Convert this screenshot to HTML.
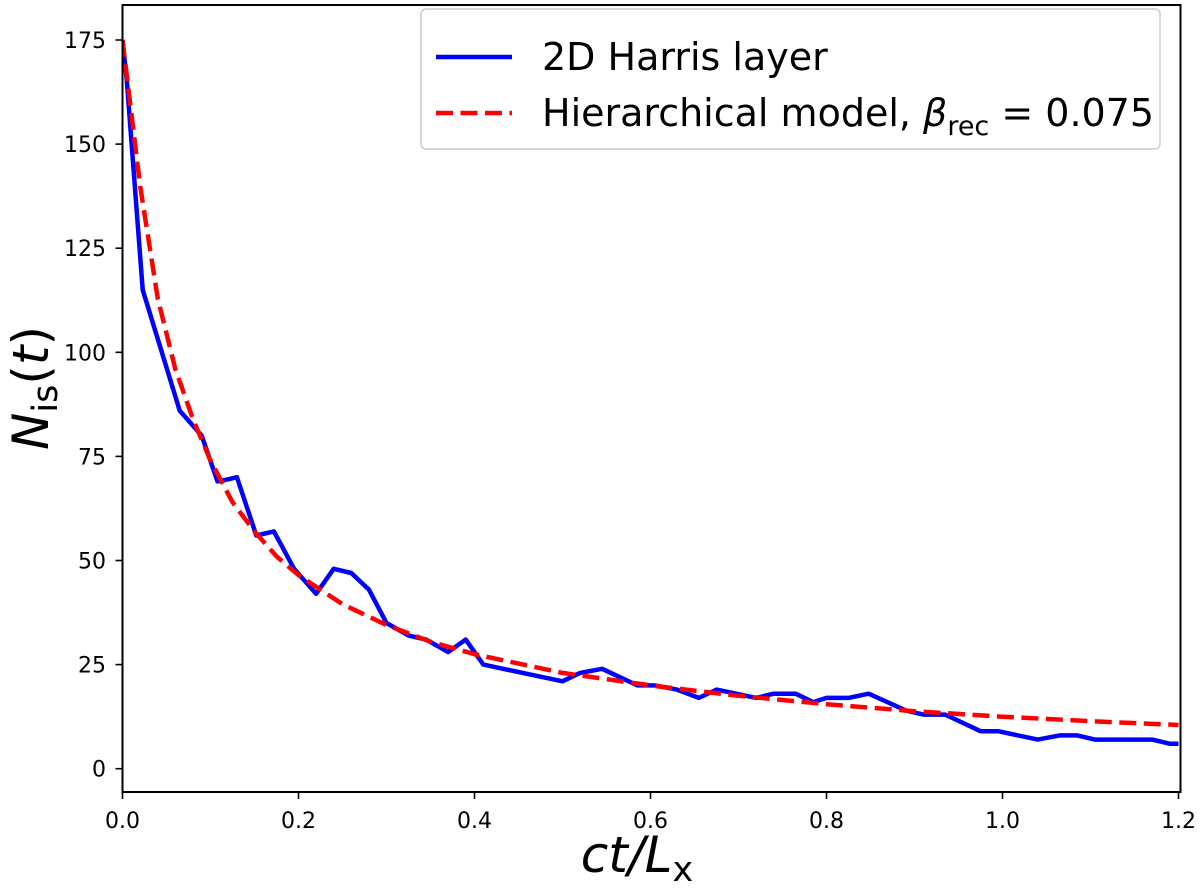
<!DOCTYPE html>
<html><head><meta charset="utf-8"><style>
body{margin:0;background:#fff}
text{font-family:"DejaVu Sans","Liberation Sans",sans-serif}
</style></head><body>
<svg id="chart" width="1200" height="886" xmlns="http://www.w3.org/2000/svg">
<defs><clipPath id="clip"><rect x="122.5" y="5" width="1058" height="787"/></clipPath></defs>
<g id="ticks"></g>
<g clip-path="url(#clip)">
<path id="blue" fill="none" stroke="#0000ff" stroke-width="4.5" stroke-linejoin="round"/>
<path id="red" fill="none" stroke="#ff0000" stroke-width="4.5" stroke-dasharray="17,7.5"/>
</g>
<rect x="122.5" y="5" width="1058" height="787" fill="none" stroke="#000" stroke-width="2"/>
<g>
<rect x="421" y="9" width="739" height="140" rx="5" fill="#fff" fill-opacity="0.8" stroke="#ccc" stroke-width="1.5"/>
<line x1="436" y1="57" x2="512" y2="57" stroke="#0000ff" stroke-width="4.5"/>
<text x="542" y="70" font-size="38">2D Harris layer</text>
<line x1="436" y1="113" x2="512" y2="113" stroke="#ff0000" stroke-width="4.5" stroke-dasharray="17,7.5"/>
<text x="542" y="126" font-size="38">Hierarchical model, <tspan font-style="italic">β</tspan><tspan font-size="27" dy="9">rec</tspan><tspan dy="-9"> = 0.075</tspan></text>
</g>
<text x="637" y="872" font-size="50" text-anchor="middle" font-style="italic">ct/L<tspan font-style="normal" font-size="35" dy="9">x</tspan></text>
<text transform="translate(48,388) rotate(-90)" font-size="50" text-anchor="middle"><tspan font-style="italic">N</tspan><tspan font-size="35" dy="9">is</tspan><tspan dy="-9">(</tspan><tspan font-style="italic">t</tspan>)</text>
</svg>
<script>
const xTicks=[0,0.2,0.4,0.6,0.8,1.0,1.2];
const xTickLabels=["0.0","0.2","0.4","0.6","0.8","1.0","1.2"];
const yTicks=[0,25,50,75,100,125,150,175];
const blueX=[0,0.005,0.023,0.065,0.09,0.108,0.12,0.13,0.152,0.172,0.195,0.22,0.24,0.26,0.28,0.3,0.325,0.345,0.37,0.39,0.41,0.5,0.52,0.545,0.585,0.605,0.63,0.655,0.675,0.72,0.74,0.765,0.785,0.8,0.825,0.848,0.89,0.91,0.935,0.975,0.995,1.04,1.065,1.085,1.105,1.17,1.19,1.2];
const blueY=[175,165,115,86,80,69,69.5,70,56,57,48,42,48,47,43,35,32,31,28,31,25,21,23,24,20,20,19,17,19,17,18,18,16,17,17,18,14,13,13,9,9,7,8,8,7,7,6,6];
const redX=[0,0.02,0.04,0.06,0.08,0.1,0.125,0.15,0.175,0.2,0.25,0.3,0.35,0.4,0.5,0.6,0.7,0.8,0.9,1.0,1.1,1.2];
const redY=[175,140,113,96,84,74,64,57,51,46.5,39.5,34.5,30.5,27.5,23,20,17.5,15.5,13.8,12.5,11.4,10.5];
const sx=v=>122.5+v*880;
const sy=v=>768.7-v*4.164;
const ns="http://www.w3.org/2000/svg";
const g=document.getElementById('ticks');
function mk(t,a){const e=document.createElementNS(ns,t);for(const k in a)e.setAttribute(k,a[k]);g.appendChild(e);return e;}
xTicks.forEach((v,i)=>{
 const l=mk('line',{x1:sx(v),x2:sx(v),y1:792,y2:799,stroke:'#000','stroke-width':1.6});
 
 
 const t=mk('text',{x:sx(v),y:828,'font-size':22,'text-anchor':'middle'});
 t.textContent=xTickLabels[i];
 
 
});
yTicks.forEach(v=>{
 const l=mk('line',{x1:115.5,x2:122.5,y1:sy(v),y2:sy(v),stroke:'#000','stroke-width':1.6});
 
 
 const t=mk('text',{x:106,y:sy(v)+8,'font-size':22,'text-anchor':'end'});
 t.textContent=String(v);
 
 
});
const pth=(X,Y)=>X.map((x,i)=>(i?'L':'M')+sx(x).toFixed(1)+','+sy(Y[i]).toFixed(1)).join('');
document.getElementById('blue').setAttribute('d',pth(blueX,blueY));
document.getElementById('red').setAttribute('d',pth(redX,redY));
</script>
</body></html>
